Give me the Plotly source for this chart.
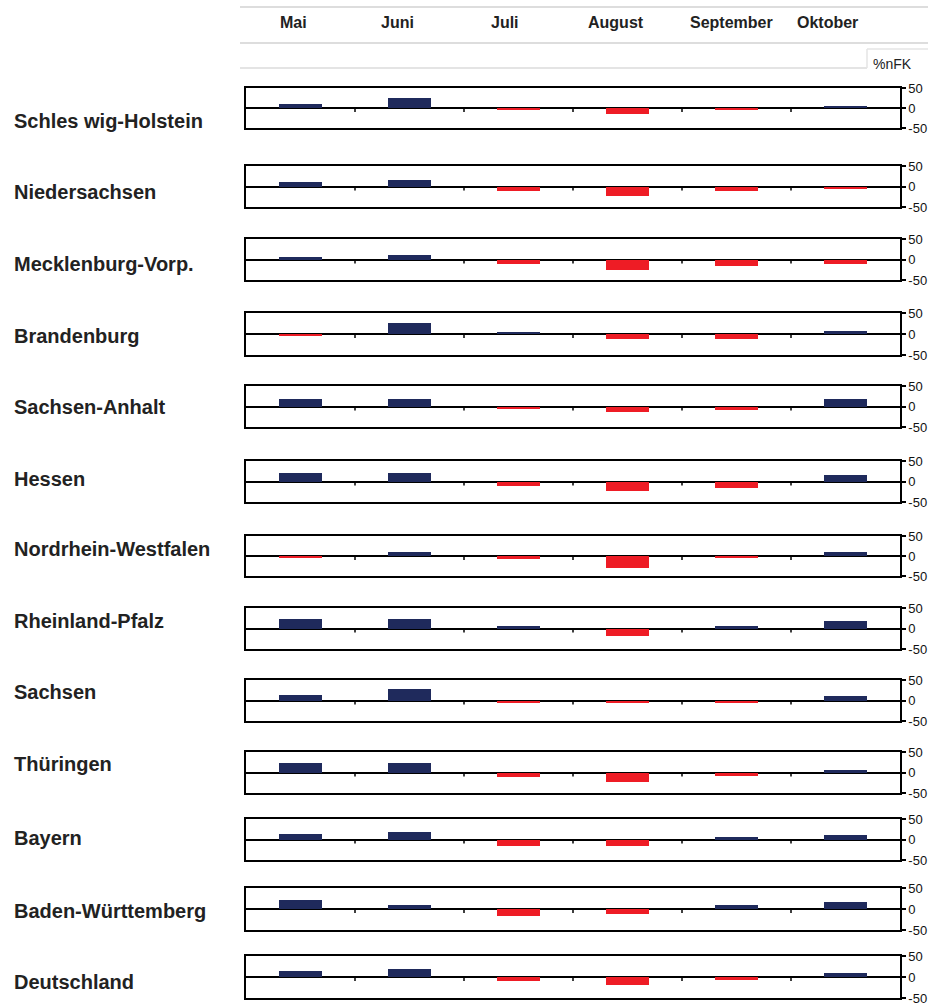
import plotly.graph_objects as go

months = ["Mai", "Juni", "Juli", "August", "September", "Oktober"]
states = ["Schleswig-Holstein", "Niedersachsen", "Mecklenburg-Vorp.", "Brandenburg",
          "Sachsen-Anhalt", "Hessen", "Nordrhein-Westfalen", "Rheinland-Pfalz",
          "Sachsen", "Thüringen", "Bayern", "Baden-Württemberg", "Deutschland"]
state_labels = ["Schles wig-Holstein", "Niedersachsen", "Mecklenburg-Vorp.", "Brandenburg",
                "Sachsen-Anhalt", "Hessen", "Nordrhein-Westfalen", "Rheinland-Pfalz",
                "Sachsen", "Thüringen", "Bayern", "Baden-Württemberg", "Deutschland"]

schleswig_holstein = [10, 24, -6, -16, -6, 6]
niedersachsen = [12, 15, -11, -22, -10, -6]
mecklenburg_vorp = [5, 12, -10, -26, -17, -10]
brandenburg = [-5, 27, 4, -11, -11, 7]
sachsen_anhalt = [19, 19, -5, -13, -9, 19]
hessen = [20, 21, -11, -24, -16, 16]
nordrhein_westfalen = [-5, 10, -7, -29, -5, 10]
rheinland_pfalz = [24, 24, 5, -19, 5, 19]
sachsen = [13, 29, -6, -6, -6, 10]
thueringen = [22, 22, -10, -23, -8, 5]
bayern = [14, 19, -17, -17, 5, 10]
baden_wuerttemberg = [21, 10, -17, -11, 10, 17]
deutschland = [14, 19, -9, -19, -8, 10]

series = [schleswig_holstein, niedersachsen, mecklenburg_vorp, brandenburg,
          sachsen_anhalt, hessen, nordrhein_westfalen, rheinland_pfalz,
          sachsen, thueringen, bayern, baden_wuerttemberg, deutschland]

y_ticks = [-50, 0, 50]
y_tick_text = ["-50", "0", "50"]
unit_label = "%nFK"

W, H = 928, 1007


def px_x(x):
    return x / W


def px_y(y):
    return 1 - y / H


# panel pixel extents (top, bottom)
panel_px = [(88, 128), (166, 207), (239, 280), (313, 355), (386, 427), (461, 502),
            (536, 576), (608, 649), (680, 721), (752, 793), (819, 860), (888, 930),
            (956, 998)]
label_y_px = [121, 192, 264, 336, 407, 479, 549, 621, 692, 764, 838, 911, 982]
x_left, x_right = 246, 900

BLUE = "#1F2A5C"
RED = "#EE1C25"
FONT = "Liberation Sans, Arial"

fig = go.Figure()
shapes = []
annotations = []

for i, (name, vals) in enumerate(zip(states, series)):
    idx = "" if i == 0 else str(i + 1)
    xa, ya = "x" + idx, "y" + idx
    colors = [BLUE if v >= 0 else RED for v in vals]
    fig.add_trace(go.Bar(x=list(range(len(months))), y=vals, marker_color=colors,
                         marker_line_width=0, width=0.4, xaxis=xa, yaxis=ya,
                         name=name, showlegend=False, hovertext=months))
    top, bot = panel_px[i]
    fig.layout["xaxis" + idx] = dict(
        domain=[px_x(x_left), px_x(x_right)], anchor=ya, range=[-0.5, len(months) - 0.5],
        showticklabels=False, ticks="", showgrid=False, zeroline=False, automargin=False,
        showline=True, linecolor="black", linewidth=1.5, mirror=True)
    fig.layout["yaxis" + idx] = dict(
        domain=[px_y(bot), px_y(top)], anchor=xa, side="right", automargin=False,
        range=[-50, 50], tickvals=y_ticks, ticktext=y_tick_text, ticks="outside",
        ticklen=4, tickwidth=1.5,
        tickcolor="black", showgrid=False, zeroline=True, zerolinecolor="black",
        zerolinewidth=1.5, showline=True, linecolor="black", linewidth=1.5, mirror=True,
        tickfont=dict(family=FONT, size=13, color="#111111"))
    for b in range(len(months) - 1):
        shapes.append(dict(type="line", xref=xa, yref=ya, x0=b + 0.5, x1=b + 0.5,
                           ysizemode="pixel", yanchor=0, y0=0, y1=-4,
                           line=dict(color="black", width=1.5)))
    annotations.append(dict(text=state_labels[i], xref="paper", yref="paper",
                            x=px_x(12), y=px_y(label_y_px[i]), xanchor="left",
                            yanchor="middle", showarrow=False,
                            font=dict(family=FONT, size=20, color="#222222",
                                      weight="bold")))

month_x_px = [293, 397, 505, 616, 731, 827]
for m, xp in zip(months, month_x_px):
    annotations.append(dict(text=m, xref="paper", yref="paper", x=px_x(xp), y=px_y(22),
                            xanchor="center", yanchor="middle", showarrow=False,
                            font=dict(family=FONT, size=16, color="#222222",
                                      weight="bold")))

annotations.append(dict(text=unit_label, xref="paper", yref="paper", x=px_x(871),
                        y=px_y(64), xanchor="left", yanchor="middle", showarrow=False,
                        font=dict(family=FONT, size=14, color="#222222")))

# header table lines
for yp in (7, 43):
    shapes.append(dict(type="line", xref="paper", yref="paper", x0=px_x(240), x1=1,
                       y0=px_y(yp), y1=px_y(yp), line=dict(color="#dddddd", width=2)))
shapes.append(dict(type="line", xref="paper", yref="paper", x0=px_x(240), x1=px_x(867),
                   y0=px_y(68), y1=px_y(68), line=dict(color="#e4e4e4", width=2)))
shapes.append(dict(type="line", xref="paper", yref="paper", x0=px_x(867), x1=1,
                   y0=px_y(49), y1=px_y(49), line=dict(color="#e4e4e4", width=1.5)))
shapes.append(dict(type="line", xref="paper", yref="paper", x0=px_x(867), x1=px_x(867),
                   y0=px_y(49), y1=px_y(68), line=dict(color="#e4e4e4", width=1.5)))

fig.update_layout(width=W, height=H,
                  margin=dict(l=0, r=0, t=0, b=0, pad=0, autoexpand=False),
                  paper_bgcolor="white", plot_bgcolor="white", bargap=0,
                  shapes=shapes, annotations=annotations)

page_css = ("document.documentElement.style.margin='0';"
            "document.documentElement.style.overflow='hidden';"
            "document.body.style.margin='0';"
            "document.body.style.overflow='hidden';")

fig.write_html("out.html", post_script=page_css, config={"displayModeBar": False})
